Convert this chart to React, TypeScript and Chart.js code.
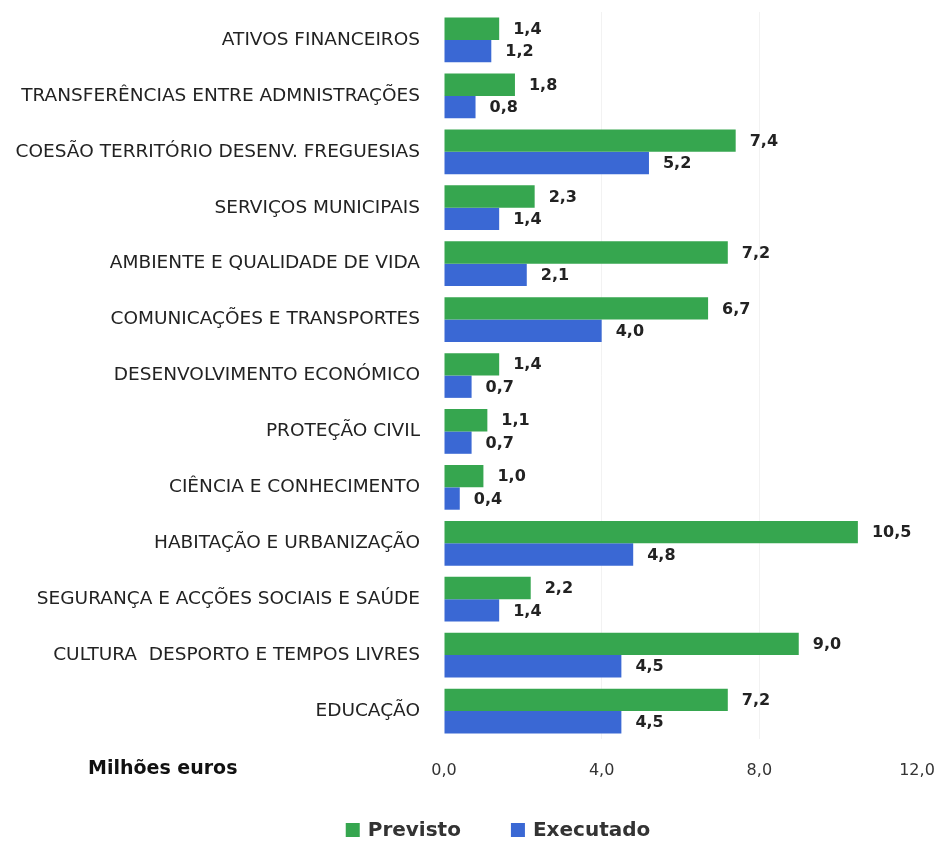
import React, { useEffect, useRef } from "react";
import { Chart, registerables } from "chart.js";
Chart.register(...registerables);

const categories = [
  "ATIVOS FINANCEIROS",
  "TRANSFERÊNCIAS ENTRE ADMNISTRAÇÕES",
  "COESÃO TERRITÓRIO DESENV. FREGUESIAS",
  "SERVIÇOS MUNICIPAIS",
  "AMBIENTE E QUALIDADE DE VIDA",
  "COMUNICAÇÕES E TRANSPORTES",
  "DESENVOLVIMENTO ECONÓMICO",
  "PROTEÇÃO CIVIL",
  "CIÊNCIA E CONHECIMENTO",
  "HABITAÇÃO E URBANIZAÇÃO",
  "SEGURANÇA E ACÇÕES SOCIAIS E SAÚDE",
  "CULTURA  DESPORTO E TEMPOS LIVRES",
  "EDUCAÇÃO",
];
const previsto = [1.4, 1.8, 7.4, 2.3, 7.2, 6.7, 1.4, 1.1, 1.0, 10.5, 2.2, 9.0, 7.2];
const executado = [1.2, 0.8, 5.2, 1.4, 2.1, 4.0, 0.7, 0.7, 0.4, 4.8, 1.4, 4.5, 4.5];
const xTicks = [0, 4, 8, 12];
const seriesNames = ["Previsto", "Executado"];
const axisUnit = "Milhões euros";

const GREEN = "#36a64f";
const BLUE = "#3a68d4";
const FONT = "'DejaVu Sans', sans-serif";

const fmt = (v: number) => v.toFixed(1).replace(".", ",");

const valueLabels = {
  id: "valueLabels",
  afterDatasetsDraw(chart: any) {
    const ctx = chart.ctx;
    ctx.save();
    ctx.font = `bold 16px ${FONT}`;
    ctx.fillStyle = "#222";
    ctx.textAlign = "left";
    ctx.textBaseline = "middle";
    chart.data.datasets.forEach((ds: any, i: number) => {
      const meta = chart.getDatasetMeta(i);
      meta.data.forEach((el: any, j: number) => {
        ctx.fillText(fmt(ds.data[j]), el.x + 14, el.y + 1);
      });
    });
    ctx.restore();
  },
};

const extras = {
  id: "extras",
  afterDraw(chart: any) {
    const ctx = chart.ctx;
    const area = chart.chartArea;
    ctx.save();
    ctx.font = `bold 19px ${FONT}`;
    ctx.fillStyle = "#111";
    ctx.textAlign = "left";
    ctx.textBaseline = "middle";
    ctx.fillText(axisUnit, 88, area.bottom + 30);

    // legend
    ctx.font = `bold 20px ${FONT}`;
    const y = 830;
    const box = 14;
    const gapText = 8;
    const gapItem = 50;
    const widths = chart.data.datasets.map((d: any) => ctx.measureText(d.label).width);
    const total = widths.reduce((a: number, w: number) => a + box + gapText + w, 0) + gapItem * (widths.length - 1);
    let x = 498 - total / 2;
    chart.data.datasets.forEach((d: any, i: number) => {
      ctx.fillStyle = d.backgroundColor;
      ctx.fillRect(x, y - box / 2, box, box);
      x += box + gapText;
      ctx.fillStyle = "#333";
      ctx.fillText(d.label, x, y + 1);
      x += widths[i] + gapItem;
    });
    ctx.restore();
  },
};

export default function App() {
  const ref = useRef<HTMLCanvasElement>(null);
  useEffect(() => {
    if (!ref.current) return;
    const chart = new Chart(ref.current, {
      type: "bar",
      data: {
        labels: categories,
        datasets: [
          { label: seriesNames[0], data: previsto, backgroundColor: GREEN, categoryPercentage: 0.8, barPercentage: 1 },
          { label: seriesNames[1], data: executado, backgroundColor: BLUE, categoryPercentage: 0.8, barPercentage: 1 },
        ],
      },
      options: {
        indexAxis: "y",
        animation: false,
        responsive: false,
        layout: { padding: { top: 12, right: 23, bottom: 64, left: 0 } },
        plugins: { legend: { display: false }, tooltip: { enabled: false } },
        scales: {
          x: {
            min: 0,
            max: 12,
            afterBuildTicks: (s: any) => {
              s.ticks = xTicks.map((v) => ({ value: v }));
            },
            afterFit: (s: any) => {
              s.height = 40;
              s.paddingLeft = 0;
              s.paddingRight = 0;
            },
            grid: {
              color: (c: any) => (c.tick && (c.tick.value === 0 || c.tick.value === 12) ? "rgba(0,0,0,0)" : "rgba(0,0,0,0.05)"),
              drawTicks: false,
            },
            border: { display: false },
            ticks: {
              padding: 22,
              color: "#333",
              font: { family: FONT, size: 16 },
              callback: (v: any) => fmt(Number(v)),
            },
          },
          y: {
            afterFit: (s: any) => {
              s.width = 444;
              s.paddingTop = 0;
              s.paddingBottom = 0;
            },
            grid: { display: false, drawTicks: false },
            border: { display: false },
            ticks: {
              autoSkip: false,
              padding: 24,
              color: "#222",
              font: { family: FONT, size: 18.5 },
            },
          },
        },
      },
      plugins: [valueLabels, extras],
    });
    return () => chart.destroy();
  }, []);
  return (
    <div style={{ position: "fixed", left: 0, top: 0, width: 940, height: 843, background: "#fff" }}>
      <canvas ref={ref} width={940} height={843} style={{ width: 940, height: 843 }} />
    </div>
  );
}
